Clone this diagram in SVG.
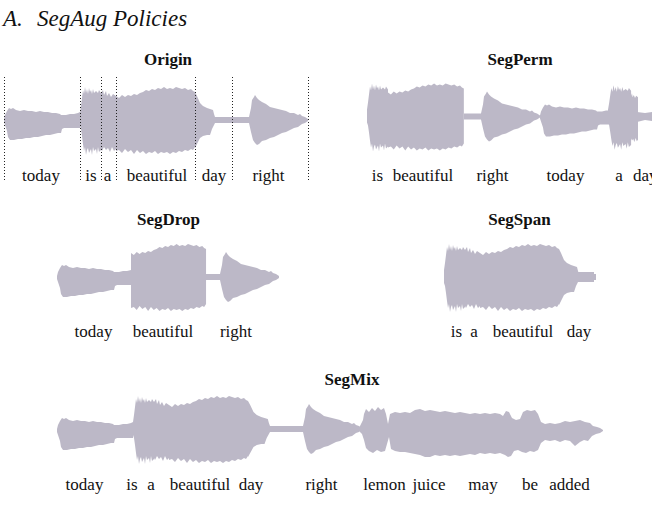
<svg xmlns="http://www.w3.org/2000/svg" xmlns:xlink="http://www.w3.org/1999/xlink" width="652" height="513" viewBox="0 0 652 513">
<style>
.wave{fill:#bcb8c7;}
.lbl{font-family:"Liberation Serif","Times New Roman",serif;font-size:17px;fill:#111;text-anchor:middle;}
.ttl{font-family:"Liberation Serif","Times New Roman",serif;font-size:17px;font-weight:bold;fill:#111;text-anchor:middle;}
.head{font-family:"Liberation Serif","Times New Roman",serif;font-size:23px;font-style:italic;fill:#111;}
.sep{stroke:#222;stroke-width:1;stroke-dasharray:1 2;fill:none;}
</style>
<defs>
<path id="w-today" d="M0,-1 L1,-5 L3,-9 L5,-12 L7,-11 L9,-12 L12,-10 L16,-9 L20,-10 L24,-9 L28,-9 L32,-8 L36,-9 L40,-8 L44,-8 L48,-7 L52,-7 L56,-6 L57,-5 L62,-5 L66,-6 L70,-6 L74,-7 L76,-8 L76,8 L72,8 L66,8 L60,8 L58,9 L57,13 L54,13 L50,14 L46,15 L42,15 L38,16 L34,17 L30,17 L26,18 L22,18 L18,19 L14,19 L10,20 L6,20 L4,17 L3,11 L1,5 L0,2 Z"/>
<path id="w-is" d="M0,-7 L1,-14 L2,-22 L3,-30 L4,-26 L5,-33 L6,-27 L7,-31 L8,-26 L9,-32 L10,-28 L11,-30 L12,-26 L13,-31 L14,-27 L16,-29 L18,-27 L19,-30 L21,-27 L21,30 L19,32 L18,27 L17,34 L16,29 L14,31 L13,27 L12,35 L11,29 L9,33 L8,28 L7,30 L6,35 L5,27 L4,31 L3,24 L2,16 L1,9 L0,6 Z"/>
<path id="w-a" d="M0,-27 L2,-30 L3,-25 L5,-29 L6,-24 L8,-27 L10,-23 L12,-26 L15,-24 L15,29 L13,31 L11,27 L9,32 L7,28 L5,30 L3,27 L1,31 L0,29 Z"/>
<path id="w-beautiful" d="M0,-24 L3,-22 L6,-25 L9,-23 L12,-25 L15,-24 L18,-26 L21,-25 L24,-27 L27,-28 L30,-30 L33,-29 L36,-31 L39,-30 L42,-32 L45,-31 L48,-33 L51,-31 L54,-32 L57,-31 L60,-33 L63,-32 L66,-31 L69,-32 L72,-30 L75,-31 L77,-29 L79,-28 L79,27 L77,30 L75,29 L72,31 L69,30 L66,32 L63,31 L60,33 L57,32 L54,34 L51,32 L48,33 L45,32 L42,34 L39,31 L36,33 L33,32 L30,34 L27,31 L24,33 L21,30 L18,34 L15,30 L12,32 L9,29 L6,33 L3,30 L0,31 Z"/>
<path id="w-day" d="M0,-28 L2,-24 L5,-17 L8,-14 L12,-12 L15,-11 L18,-10 L19,-6 L20,-3 L37,-3 L37,3 L20,3 L19,5 L17,9 L15,15 L12,15 L8,16 L5,18 L3,22 L0,28 Z"/>
<path id="w-right" d="M0,-3 L10,-3 L17,-3 L19,-12 L20,-20 L22,-23 L23,-25 L25,-22 L27,-20 L30,-18 L34,-16 L38,-13 L42,-12 L46,-11 L50,-10 L54,-9 L58,-7 L62,-7 L66,-5 L68,-6 L70,-4 L73,-3 L76,-1 L76,1 L73,3 L70,4 L66,7 L62,8 L58,10 L54,12 L50,13 L46,15 L42,17 L38,18 L34,20 L30,21 L27,24 L25,25 L23,23 L21,20 L19,12 L17,3 L0,3 Z"/>
</defs>
<rect x="0" y="0" width="652" height="513" fill="#ffffff"/>

<g id="title">
<text class="head" x="3" y="26">A.<tspan x="37">SegAug Policies</tspan></text>
</g>

<g id="origin">
<text class="ttl" x="168" y="65">Origin</text>
<g class="wave">
<use xlink:href="#w-today" href="#w-today" transform="translate(4,120)"/>
<use xlink:href="#w-is" href="#w-is" transform="translate(80,120)"/>
<use xlink:href="#w-a" href="#w-a" transform="translate(101,120)"/>
<use xlink:href="#w-beautiful" href="#w-beautiful" transform="translate(116,120)"/>
<use xlink:href="#w-day" href="#w-day" transform="translate(195,120)"/>
<use xlink:href="#w-right" href="#w-right" transform="translate(232,120)"/>
</g>
<g id="origin-separators">
<line class="sep" x1="4.5" y1="77" x2="4.5" y2="181"/>
<line class="sep" x1="80.5" y1="77" x2="80.5" y2="181"/>
<line class="sep" x1="101.5" y1="77" x2="101.5" y2="181"/>
<line class="sep" x1="116.5" y1="77" x2="116.5" y2="181"/>
<line class="sep" x1="195.5" y1="77" x2="195.5" y2="181"/>
<line class="sep" x1="232.5" y1="77" x2="232.5" y2="181"/>
<line class="sep" x1="308.5" y1="77" x2="308.5" y2="181"/>
</g>
<text class="lbl" x="41" y="181">today</text>
<text class="lbl" x="91" y="181">is</text>
<text class="lbl" x="107.5" y="181">a</text>
<text class="lbl" x="157" y="181">beautiful</text>
<text class="lbl" x="214" y="181">day</text>
<text class="lbl" x="268.5" y="181">right</text>
</g>

<g id="segperm">
<text class="ttl" x="520" y="65">SegPerm</text>
<g class="wave">
<use xlink:href="#w-is" href="#w-is" transform="translate(367,116.5)"/>
<use xlink:href="#w-beautiful" href="#w-beautiful" transform="translate(388,116.5) scale(0.96,1)"/>
<use xlink:href="#w-right" href="#w-right" transform="translate(464,116.5)"/>
<use xlink:href="#w-today" href="#w-today" transform="translate(540,116.5)"/>
<use xlink:href="#w-is" href="#w-is" transform="translate(608,116.5) scale(1.1,0.95)"/>
<use xlink:href="#w-a" href="#w-a" transform="translate(629,116.5) scale(0.6,0.8)"/>
<path d="M637,112 L645,113 L652,112 L652,121 L645,120 L637,122 Z"/>
</g>
<text class="lbl" x="377.5" y="181">is</text>
<text class="lbl" x="423" y="181">beautiful</text>
<text class="lbl" x="492.5" y="181">right</text>
<text class="lbl" x="565.5" y="181">today</text>
<text class="lbl" x="619" y="181">a</text>
<text class="lbl" x="633" y="181" style="text-anchor:start">day</text>
</g>

<g id="segdrop">
<text class="ttl" x="168.5" y="225">SegDrop</text>
<g class="wave">
<use xlink:href="#w-today" href="#w-today" transform="translate(57,277)"/>
<use xlink:href="#w-right" href="#w-right" transform="translate(203,277)"/>
<use xlink:href="#w-beautiful" href="#w-beautiful" transform="translate(131,277) scale(0.95,1)"/>
</g>
<text class="lbl" x="93.5" y="337">today</text>
<text class="lbl" x="163" y="337">beautiful</text>
<text class="lbl" x="236" y="337">right</text>
</g>

<g id="segspan">
<text class="ttl" x="519.5" y="225">SegSpan</text>
<g class="wave">
<use xlink:href="#w-is" href="#w-is" transform="translate(444,277)"/>
<use xlink:href="#w-a" href="#w-a" transform="translate(465,277)"/>
<use xlink:href="#w-beautiful" href="#w-beautiful" transform="translate(480,277)"/>
<use xlink:href="#w-day" href="#w-day" transform="translate(559,277)"/>
<path d="M578,272 L594,272 L594,282 L578,282 Z"/>
</g>
<text class="lbl" x="456.5" y="337">is</text>
<text class="lbl" x="474" y="337">a</text>
<text class="lbl" x="523" y="337">beautiful</text>
<text class="lbl" x="579" y="337">day</text>
</g>

<g id="segmix">
<text class="ttl" x="352" y="385">SegMix</text>
<g class="wave">
<use xlink:href="#w-today" href="#w-today" transform="translate(57,430)"/>
<use xlink:href="#w-is" href="#w-is" transform="translate(133,429)"/>
<use xlink:href="#w-a" href="#w-a" transform="translate(154,429)"/>
<use xlink:href="#w-beautiful" href="#w-beautiful" transform="translate(169,429)"/>
<use xlink:href="#w-day" href="#w-day" transform="translate(248,429) scale(1.1,1)"/>
<use xlink:href="#w-right" href="#w-right" transform="translate(286,429)"/>
<path d="M360,426 L363,420 L364,414 L366,409 L369,412 L372,408 L375,411 L378,407 L381,410 L384,408 L386,414 L388,424 L390,414 L395,412 L400,413 L405,412 L410,413 L415,410 L420,409 L425,411 L430,410 L435,411 L440,412 L445,411 L450,412 L455,413 L460,412 L465,413 L470,414 L475,413 L480,414 L485,413 L490,414 L495,413 L500,414 L503,416 L506,411 L509,412 L512,418 L516,420 L520,419 L523,412 L527,410 L531,411 L535,410 L538,414 L541,422 L545,424 L550,423 L555,424 L560,423 L565,421 L570,422 L575,421 L580,420 L585,422 L590,423 L593,426 L597,427 L600,428 L603,430 L603,431 L600,433 L596,434 L592,436 L588,441 L584,440 L580,442 L575,446 L570,441 L565,440 L560,442 L555,440 L550,441 L545,440 L541,443 L538,450 L534,452 L530,451 L526,453 L522,452 L518,450 L514,451 L511,456 L508,457 L505,455 L500,453 L495,454 L490,453 L485,454 L480,453 L475,455 L470,454 L465,455 L460,456 L455,455 L450,456 L445,455 L440,456 L435,455 L430,457 L425,457 L420,455 L415,454 L410,453 L405,452 L400,452 L395,451 L391,449 L389,437 L387,444 L385,451 L381,452 L377,450 L373,453 L369,451 L366,448 L364,440 L362,434 L360,432 Z"/>
</g>
<text class="lbl" x="84.5" y="490">today</text>
<text class="lbl" x="132" y="490">is</text>
<text class="lbl" x="151" y="490">a</text>
<text class="lbl" x="200" y="490">beautiful</text>
<text class="lbl" x="251" y="490">day</text>
<text class="lbl" x="321.5" y="490">right</text>
<text class="lbl" x="384.5" y="490">lemon</text>
<text class="lbl" x="429" y="490">juice</text>
<text class="lbl" x="483" y="490">may</text>
<text class="lbl" x="530" y="490">be</text>
<text class="lbl" x="569.5" y="490">added</text>
</g>
</svg>
